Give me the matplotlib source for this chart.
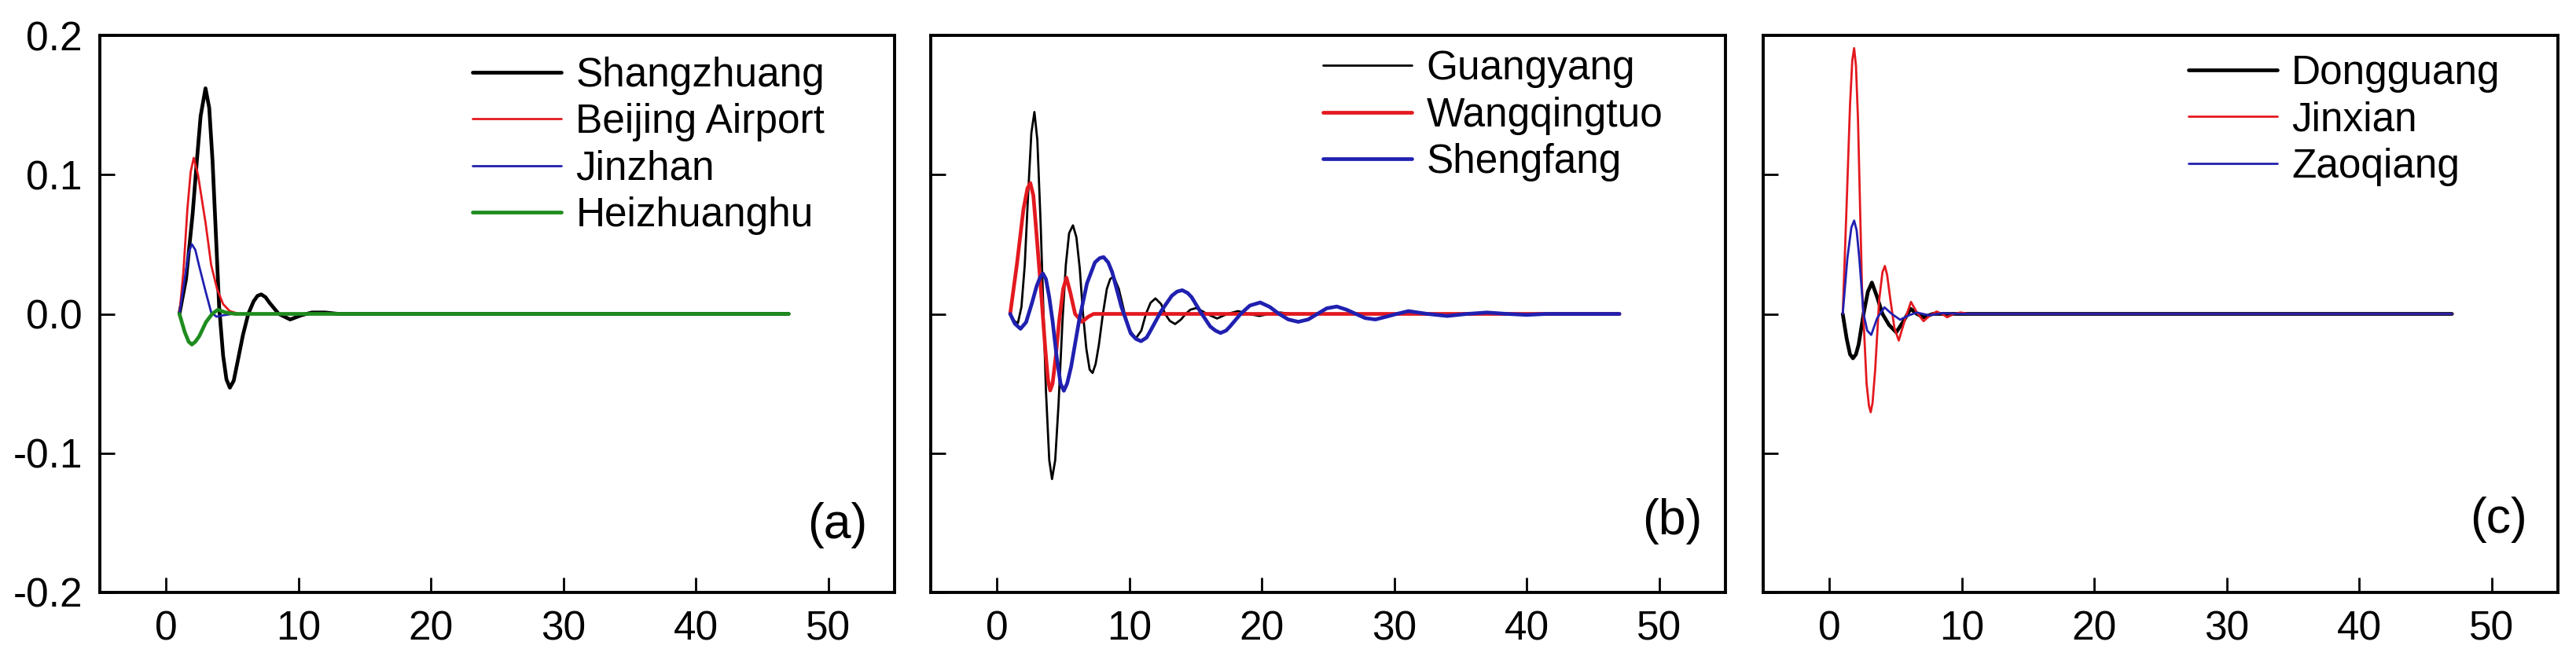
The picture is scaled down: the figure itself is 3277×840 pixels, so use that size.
import matplotlib
matplotlib.use("Agg")
from matplotlib import pyplot as plt

plt.rcParams['font.family'] = ['Liberation Sans', 'DejaVu Sans']

# ---- panel (a) ----
shang_x = [1.0, 1.5, 2.0, 2.3, 2.6, 2.97, 3.25, 3.5, 3.75, 4.0, 4.3, 4.55, 4.81, 5.1, 5.4, 5.8, 6.2, 6.6, 6.9, 7.18, 7.5, 7.8, 8.5, 9.36, 10.2, 11, 12, 13, 47]
shang_y = [0.0, 0.025, 0.072, 0.108, 0.142, 0.162, 0.148, 0.110, 0.058, 0.005, -0.030, -0.047, -0.053, -0.048, -0.034, -0.015, 0.0, 0.009, 0.013, 0.014, 0.012, 0.008, 0.0, -0.004, -0.001, 0.001, 0.001, 0.0, 0.0]
beij_x = [1.0, 1.3, 1.6, 1.85, 2.08, 2.4, 2.98, 3.4, 3.84, 4.3, 4.8, 5.5, 47]
beij_y = [0.0, 0.030, 0.075, 0.102, 0.112, 0.100, 0.065, 0.035, 0.018, 0.007, 0.002, 0.0, 0.0]
jinz_x = [1.0, 1.4, 1.7, 1.94, 2.2, 2.5, 2.98, 3.4, 3.8, 4.3, 5.0, 47]
jinz_y = [0.0, 0.025, 0.044, 0.050, 0.046, 0.034, 0.016, 0.001, -0.002, -0.001, 0.0, 0.0]
heiz_x = [1.0, 1.4, 1.7, 1.94, 2.2, 2.5, 3.0, 3.47, 3.9, 4.5, 5.2, 47]
heiz_y = [0.0, -0.013, -0.020, -0.022, -0.020, -0.016, -0.006, 0.0, 0.003, 0.001, 0.0, 0.0]

# ---- panel (b) ----
guang_x = [1.0, 1.3, 1.58, 1.85, 2.1, 2.35, 2.6, 2.83, 3.05, 3.3, 3.5, 3.7, 3.95, 4.16, 4.4, 4.65, 4.95, 5.2, 5.45, 5.74,
           6.0, 6.25, 6.5, 6.75, 7.0, 7.22, 7.45, 7.7, 8.0, 8.3, 8.55, 8.81, 9.2, 9.65, 10.05, 10.49, 10.9, 11.25,
           11.6, 11.97, 12.4, 12.7, 13.05, 13.45, 13.9, 14.25, 14.6, 15.04, 15.5, 15.85, 16.62, 17.4, 18.2, 19.0,
           19.8, 20.6, 21.4, 22.2, 47]
guang_y = [0.0, -0.005, -0.0067, 0.005, 0.035, 0.085, 0.130, 0.145, 0.125, 0.065, 0.005, -0.055, -0.105, -0.1186, -0.105, -0.065, -0.005, 0.035, 0.058, 0.0636,
           0.055, 0.033, 0.0, -0.025, -0.040, -0.0424, -0.036, -0.022, 0.0, 0.018, 0.025, 0.0269, 0.018, 0.0, -0.012, -0.0176, -0.012, 0.0,
           0.008, 0.0111, 0.007, 0.0, -0.005, -0.0073, -0.004, 0.0, 0.003, 0.0042, 0.002, 0.0, -0.0033, 0.0, 0.002, 0.0,
           -0.0015, 0.0, 0.001, 0.0, 0.0]
wang_x = [1.0, 1.5, 2.0, 2.3, 2.52, 2.75, 2.95, 3.3, 3.65, 3.85, 4.02, 4.2, 4.45, 4.7, 5.0, 5.25, 5.55, 5.9, 6.43, 6.9, 7.3, 47]
wang_y = [0.0, 0.035, 0.075, 0.090, 0.094, 0.085, 0.062, 0.020, -0.025, -0.047, -0.055, -0.050, -0.030, -0.005, 0.018, 0.026, 0.015, 0.0, -0.0057, -0.002, 0.0, 0.0]
sheng_x = [1.0, 1.35, 1.78, 2.2, 2.65, 3.0, 3.25, 3.47, 3.7, 3.95, 4.2, 4.5, 4.8, 5.05, 5.3, 5.6, 6.2, 6.8, 7.4, 7.75, 8.05, 8.4, 8.7, 9.4, 10.1, 10.5, 10.88,
           11.3, 11.6, 12.4, 13.2, 13.6, 13.99, 14.4, 14.7, 15.4, 16.1, 16.5, 16.88, 17.3, 17.6, 18.4, 19.1, 19.88, 20.6, 21.3, 22.0, 22.75, 23.5,
           24.2, 24.9, 25.66, 26.4, 27.1, 27.8, 28.58, 29.4, 30.2, 31.07, 32.5, 34.0, 35.5, 37.0, 38.5, 40.0, 41.5, 47]
sheng_y = [0.0, -0.007, -0.0107, -0.006, 0.008, 0.020, 0.026, 0.029, 0.025, 0.012, -0.005, -0.030, -0.050, -0.0552, -0.050, -0.038, -0.005, 0.022, 0.037, 0.040, 0.0408, 0.037, 0.030, 0.005, -0.014, -0.018, -0.0196,
           -0.017, -0.012, 0.002, 0.013, 0.016, 0.017, 0.015, 0.012, 0.001, -0.009, -0.012, -0.0137, -0.012, -0.009, 0.0, 0.006, 0.0082, 0.005, 0.0, -0.004, -0.0057, -0.004,
           0.0, 0.004, 0.0053, 0.003, 0.0, -0.003, -0.004, -0.002, 0.0, 0.002, 0.0, -0.0015, 0.0, 0.001, 0.0, -0.0007, 0.0, 0.0]

# ---- panel (c) ----
dong_x = [1.0, 1.3, 1.55, 1.77, 2.0, 2.2, 2.57, 2.9, 3.2, 3.6, 4.0, 4.5, 5.04, 5.6, 6.12, 6.6, 7.1, 7.8, 47]
dong_y = [0.0, -0.018, -0.029, -0.0319, -0.029, -0.022, 0.0, 0.016, 0.0225, 0.012, 0.0, -0.008, -0.0132, -0.005, 0.0037, 0.0, -0.0025, 0.0, 0.0]
jinx_x = [1.0, 1.3, 1.55, 1.72, 1.86, 2.0, 2.15, 2.45, 2.8, 2.98, 3.11, 3.25, 3.45, 3.75, 4.0, 4.18, 4.35, 4.6, 4.9, 5.23, 5.7, 6.15, 6.6, 7.1, 7.6, 8.09, 8.5, 8.88, 9.4, 9.9, 10.5, 47]
jinx_y = [0.0, 0.080, 0.150, 0.182, 0.1908, 0.178, 0.140, 0.020, -0.050, -0.066, -0.0706, -0.064, -0.040, 0.010, 0.030, 0.0344, 0.028, 0.010, -0.010, -0.0191, -0.004, 0.0086, 0.001, -0.0052, -0.001, 0.0017, 0.0, -0.0024, 0.0, 0.001, 0.0, 0.0]
zaoq_x = [1.0, 1.35, 1.65, 1.86, 2.05, 2.25, 2.57, 2.85, 3.15, 3.6, 4.15, 4.7, 5.33, 6.0, 6.6, 7.5, 8.5, 10.0, 47]
zaoq_y = [0.0, 0.040, 0.062, 0.067, 0.060, 0.040, 0.0, -0.012, -0.0151, -0.003, 0.0047, 0.0, -0.0042, -0.001, 0.001, -0.001, 0.0005, 0.0, 0.0]

RED = '#e3191f'
BLUE = '#2020b0'
GREEN = '#1e8c1e'
THICK = 3.4
THIN = 2.0
FS = 37

fig = plt.figure(figsize=(32.77, 8.4), dpi=100)
lefts = [0.0388, 0.3613, 0.6845]
w = 0.3085
axes = [fig.add_axes([l, 0.1024, w, 0.8440]) for l in lefts]

panels = [
    [(shang_x, shang_y, 'k', THICK, 'Shangzhuang'),
     (beij_x, beij_y, RED, THIN, 'Beijing Airport'),
     (jinz_x, jinz_y, BLUE, THIN, 'Jinzhan'),
     (heiz_x, heiz_y, GREEN, THICK, 'Heizhuanghu')],
    [(guang_x, guang_y, 'k', THIN, 'Guangyang'),
     (wang_x, wang_y, RED, THICK, 'Wangqingtuo'),
     (sheng_x, sheng_y, BLUE, THICK, 'Shengfang')],
    [(dong_x, dong_y, 'k', THICK, 'Dongguang'),
     (jinx_x, jinx_y, RED, THIN, 'Jinxian'),
     (zaoq_x, zaoq_y, BLUE, THIN, 'Zaoqiang')],
]
leg_pos = [(0.469, 0.962), (0.494, 0.974), (0.535, 0.966)]
tags = ['(a)', '(b)', '(c)']
tag_pos = [(0.966, 0.121), (0.971, 0.128), (0.961, 0.130)]

for i, ax in enumerate(axes):
    for xs, ys, c, lw, lab in panels[i]:
        ax.plot(xs, ys, color=c, linewidth=lw, label=lab,
                solid_joinstyle='round', solid_capstyle='round')
    ax.set_xlim(-5, 55)
    ax.set_ylim(-0.2, 0.2)
    ax.set_xticks([0, 10, 20, 30, 40, 50])
    ax.set_yticks([-0.2, -0.1, 0.0, 0.1, 0.2])
    ax.set_yticklabels(['-0.2', '-0.1', '0.0', '0.1', '0.2'])
    ax.tick_params(direction='in', length=14, width=2, labelsize=FS, pad=16,
                   top=False, right=False)
    if i > 0:
        ax.tick_params(labelleft=False)
    for s in ax.spines.values():
        s.set_linewidth(2.8)
    ax.legend(loc='upper left', bbox_to_anchor=leg_pos[i], frameon=False,
              fontsize=FS, handlelength=2.2, handletextpad=0.35,
              labelspacing=0.2, borderpad=0, borderaxespad=0)
    ax.text(tag_pos[i][0], tag_pos[i][1], tags[i], transform=ax.transAxes,
            ha='right', va='center', fontsize=45)

fig.savefig('out.png', dpi=100)
